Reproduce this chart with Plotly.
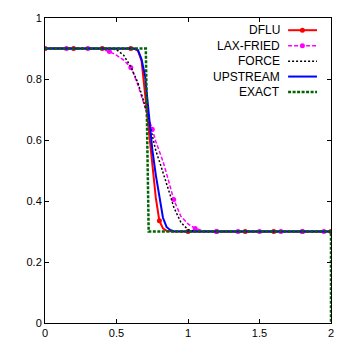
import plotly.graph_objects as go

# grid shared by the numerical schemes
x_grid = [0, 0.1, 0.2, 0.3, 0.35, 0.4, 0.45, 0.5, 0.55, 0.6, 0.625, 0.65, 0.675, 0.7,
          0.725, 0.75, 0.775, 0.8, 0.825, 0.85, 0.875, 0.9, 0.95, 1.0, 1.05, 1.1,
          1.2, 1.4, 1.6, 1.8, 2.0]

dflu = [0.9, 0.9, 0.9, 0.9, 0.9, 0.9, 0.9, 0.9, 0.9, 0.9, 0.899, 0.893, 0.86, 0.75,
        0.635, 0.525, 0.41, 0.335, 0.31, 0.302, 0.3, 0.3, 0.3, 0.3, 0.3, 0.3,
        0.3, 0.3, 0.3, 0.3, 0.3]
lax_fried = [0.9, 0.9, 0.9, 0.9, 0.9, 0.897, 0.89, 0.878, 0.862, 0.838, 0.812, 0.78,
             0.745, 0.705, 0.67, 0.635, 0.595, 0.565, 0.53, 0.49, 0.445, 0.405, 0.35,
             0.325, 0.31, 0.303, 0.3, 0.3, 0.3, 0.3, 0.3]
force = [0.9, 0.9, 0.9, 0.9, 0.9, 0.9, 0.9, 0.896, 0.878, 0.84, 0.815, 0.787, 0.75,
         0.71, 0.67, 0.615, 0.565, 0.53, 0.495, 0.46, 0.42, 0.38, 0.33, 0.306, 0.301,
         0.3, 0.3, 0.3, 0.3, 0.3, 0.3]
upstream = [0.9, 0.9, 0.9, 0.9, 0.9, 0.9, 0.9, 0.9, 0.9, 0.9, 0.9, 0.895, 0.865, 0.81,
            0.69, 0.57, 0.485, 0.41, 0.345, 0.315, 0.305, 0.301, 0.3, 0.3, 0.3, 0.3,
            0.3, 0.3, 0.3, 0.3, 0.3]

# point markers (gnuplot linespoints, sparse)
dflu_pts_x = [0, 0.2, 0.4, 0.6, 0.8, 1.0, 1.2, 1.4, 1.6, 1.8, 2.0]
dflu_pts_y = [0.9, 0.9, 0.9, 0.9, 0.335, 0.3, 0.3, 0.3, 0.3, 0.3, 0.3]
lax_pts_x = [0, 0.15, 0.3, 0.45, 0.6, 0.75, 0.9, 1.05, 1.2, 1.35, 1.5, 1.65, 1.8, 1.95]
lax_pts_y = [0.9, 0.9, 0.9, 0.89, 0.838, 0.635, 0.405, 0.31, 0.3, 0.3, 0.3, 0.3, 0.3, 0.3]

exact_x = [0, 0.705, 0.725, 2.0, 2.0]
exact_y = [0.9, 0.9, 0.3, 0.3, 0.0]

labels = ["DFLU", "LAX-FRIED", "FORCE", "UPSTREAM", "EXACT"]

FONT = "Liberation Sans, Arial, sans-serif"

fig = go.Figure()
fig.add_trace(go.Scatter(x=x_grid, y=dflu, mode="lines",
                         line=dict(color="#ff0000", width=2)))
fig.add_trace(go.Scatter(x=dflu_pts_x, y=dflu_pts_y, mode="markers",
                         marker=dict(color="#ff0000", size=5)))
fig.add_trace(go.Scatter(x=x_grid, y=lax_fried, mode="lines",
                         line=dict(color="#ff00ff", width=1.5, dash="4px,2px")))
fig.add_trace(go.Scatter(x=lax_pts_x, y=lax_pts_y, mode="markers",
                         marker=dict(color="#ff00ff", size=5)))
fig.add_trace(go.Scatter(x=x_grid, y=force, mode="lines",
                         line=dict(color="#000000", width=1.5, dash="2px,2px")))
fig.add_trace(go.Scatter(x=x_grid, y=upstream, mode="lines",
                         line=dict(color="#0000ff", width=2)))
fig.add_trace(go.Scatter(x=exact_x, y=exact_y, mode="lines",
                         line=dict(color="#006400", width=2.5, dash="3px,1.5px")))

# legend drawn gnuplot style: text right, sample on the right
styles = [
    dict(color="#ff0000", width=2, dash="solid"),
    dict(color="#ff00ff", width=1.5, dash="4px,2px"),
    dict(color="#000000", width=1.5, dash="2px,2px"),
    dict(color="#0000ff", width=2, dash="solid"),
    dict(color="#006400", width=2.5, dash="3px,1.5px"),
]
row_y = [0.96, 0.909, 0.858, 0.808, 0.757]
for i, (name, st) in enumerate(zip(labels, styles)):
    fig.add_annotation(x=0.829, y=row_y[i], xref="paper", yref="paper", text=name,
                       showarrow=False, xanchor="right", yanchor="middle",
                       font=dict(family=FONT, size=12, color="#000000"))
    fig.add_shape(type="line", xref="paper", yref="paper", x0=0.85, x1=0.951,
                  y0=row_y[i], y1=row_y[i], line=st)
    if i < 2:
        fig.add_shape(type="circle", xref="paper", yref="paper",
                      xsizemode="pixel", ysizemode="pixel",
                      xanchor=0.9, yanchor=row_y[i], x0=-2.5, x1=2.5, y0=-2.5, y1=2.5,
                      fillcolor=st["color"], line=dict(width=0))

axis_common = dict(showgrid=False, zeroline=False, showline=True, linecolor="#000000",
                   linewidth=1, mirror="allticks", ticks="inside", ticklen=4,
                   tickcolor="#000000", automargin=False,
                   tickfont=dict(family=FONT, size=11, color="#000000"))
fig.update_xaxes(range=[0, 2], tickvals=[0, 0.5, 1, 1.5, 2],
                 ticktext=["0", "0.5", "1", "1.5", "2"], **axis_common)
fig.update_yaxes(range=[0, 1], tickvals=[0, 0.2, 0.4, 0.6, 0.8, 1],
                 ticktext=["0", "0.2", "0.4", "0.6", "0.8", "1"], **axis_common)
# page body has an 8px default margin, so the margins are shifted by that amount
fig.update_layout(width=354, height=354, showlegend=False,
                  margin=dict(l=37, r=31, t=10, b=39),
                  plot_bgcolor="#ffffff", paper_bgcolor="#ffffff")

fig.write_html("out.html")
